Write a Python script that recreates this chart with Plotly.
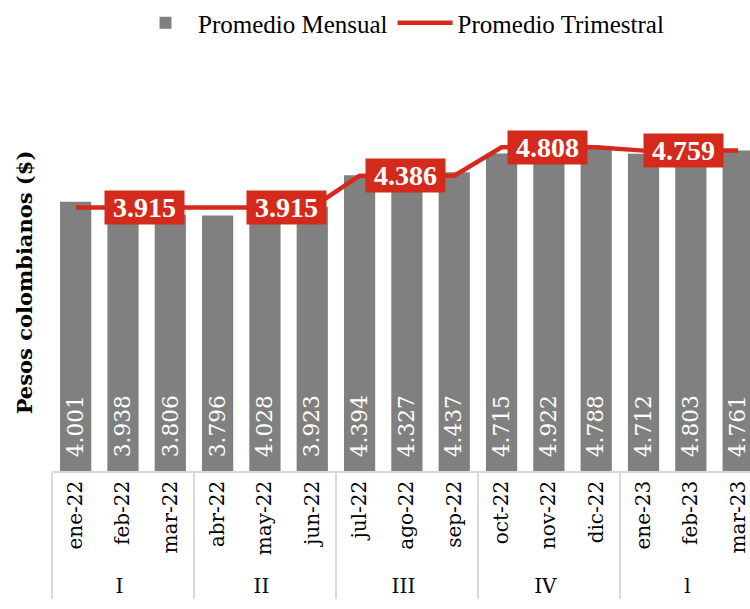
import plotly.graph_objects as go

quarters = ["I", "I", "I", "II", "II", "II", "III", "III", "III", "IV", "IV", "IV", "l", "l", "l"]
months = ["ene-22", "feb-22", "mar-22", "abr-22", "may-22", "jun-22", "jul-22", "ago-22",
          "sep-22", "oct-22", "nov-22", "dic-22", "ene-23", "feb-23", "mar-23"]
monthly = [4001, 3938, 3806, 3796, 4028, 3923, 4394, 4327, 4437, 4715, 4922, 4788, 4712, 4803, 4761]
quarterly = [3915, 3915, 3915, 3915, 3915, 3915, 4386, 4386, 4386, 4808, 4808, 4808, 4759, 4759, 4759]
label_idx = [1, 4, 7, 10, 13]
label_xshift = [22, 22, -1, -1, -7]   # label box offsets (px), as in the original layout

RED = "#D42A1C"
GRAY = "#808080"


def fmt(v):
    return f"{v:,}".replace(",", ".")


fig = go.Figure()
fig.add_bar(
    x=[quarters, months], y=monthly, name="Promedio Mensual",
    marker=dict(color=GRAY, line=dict(width=0)), width=0.66,
    text=["\u200b\u2002" + fmt(v) for v in monthly], textposition="inside",
    insidetextanchor="start", textangle=-90,
    textfont=dict(family="DejaVu Serif", size=24, color="white"),
)
fig.add_scatter(
    x=[quarters, months], y=quarterly, mode="lines", name="Promedio Trimestral",
    line=dict(color=RED, width=4.5),
)

for i, dx in zip(label_idx, label_xshift):
    fig.add_annotation(
        x=i, y=quarterly[i], xref="x", yref="y", text=fmt(quarterly[i]),
        showarrow=False, bgcolor=RED, borderpad=5, width=69, height=23, xshift=dx,
        font=dict(family="Liberation Serif", size=28, color="white", weight="bold"),
    )

fig.update_layout(
    width=750, height=609,
    margin=dict(l=52, r=0, t=94, b=138),
    paper_bgcolor="white", plot_bgcolor="white",
    legend=dict(orientation="h", x=0.5, xanchor="center", y=1.0, yref="container",
                yanchor="top", font=dict(family="Liberation Serif", size=25, color="black"),
                itemwidth=55, tracegroupgap=0),
    xaxis=dict(type="multicategory", range=[-0.5, 14.25], tickangle=-90, automargin=False,
               tickfont=dict(family="DejaVu Serif", size=20, color="black"),
               ticks="",
               showline=True, linecolor="#d9d9d9", linewidth=1.5,
               showdividers=True, dividercolor="#d9d9d9", dividerwidth=1.5,
               showgrid=False),
    yaxis=dict(range=[0, 5600], showticklabels=False, showgrid=False, zeroline=False,
               automargin=False,
               title=dict(text="Pesos colombianos ($)", standoff=12,
                          font=dict(family="DejaVu Serif", size=21, color="black",
                                    weight="bold"))),
)

fig.write_html("out.html", config={"displayModeBar": False},
               post_script="document.body.style.margin='0';")
